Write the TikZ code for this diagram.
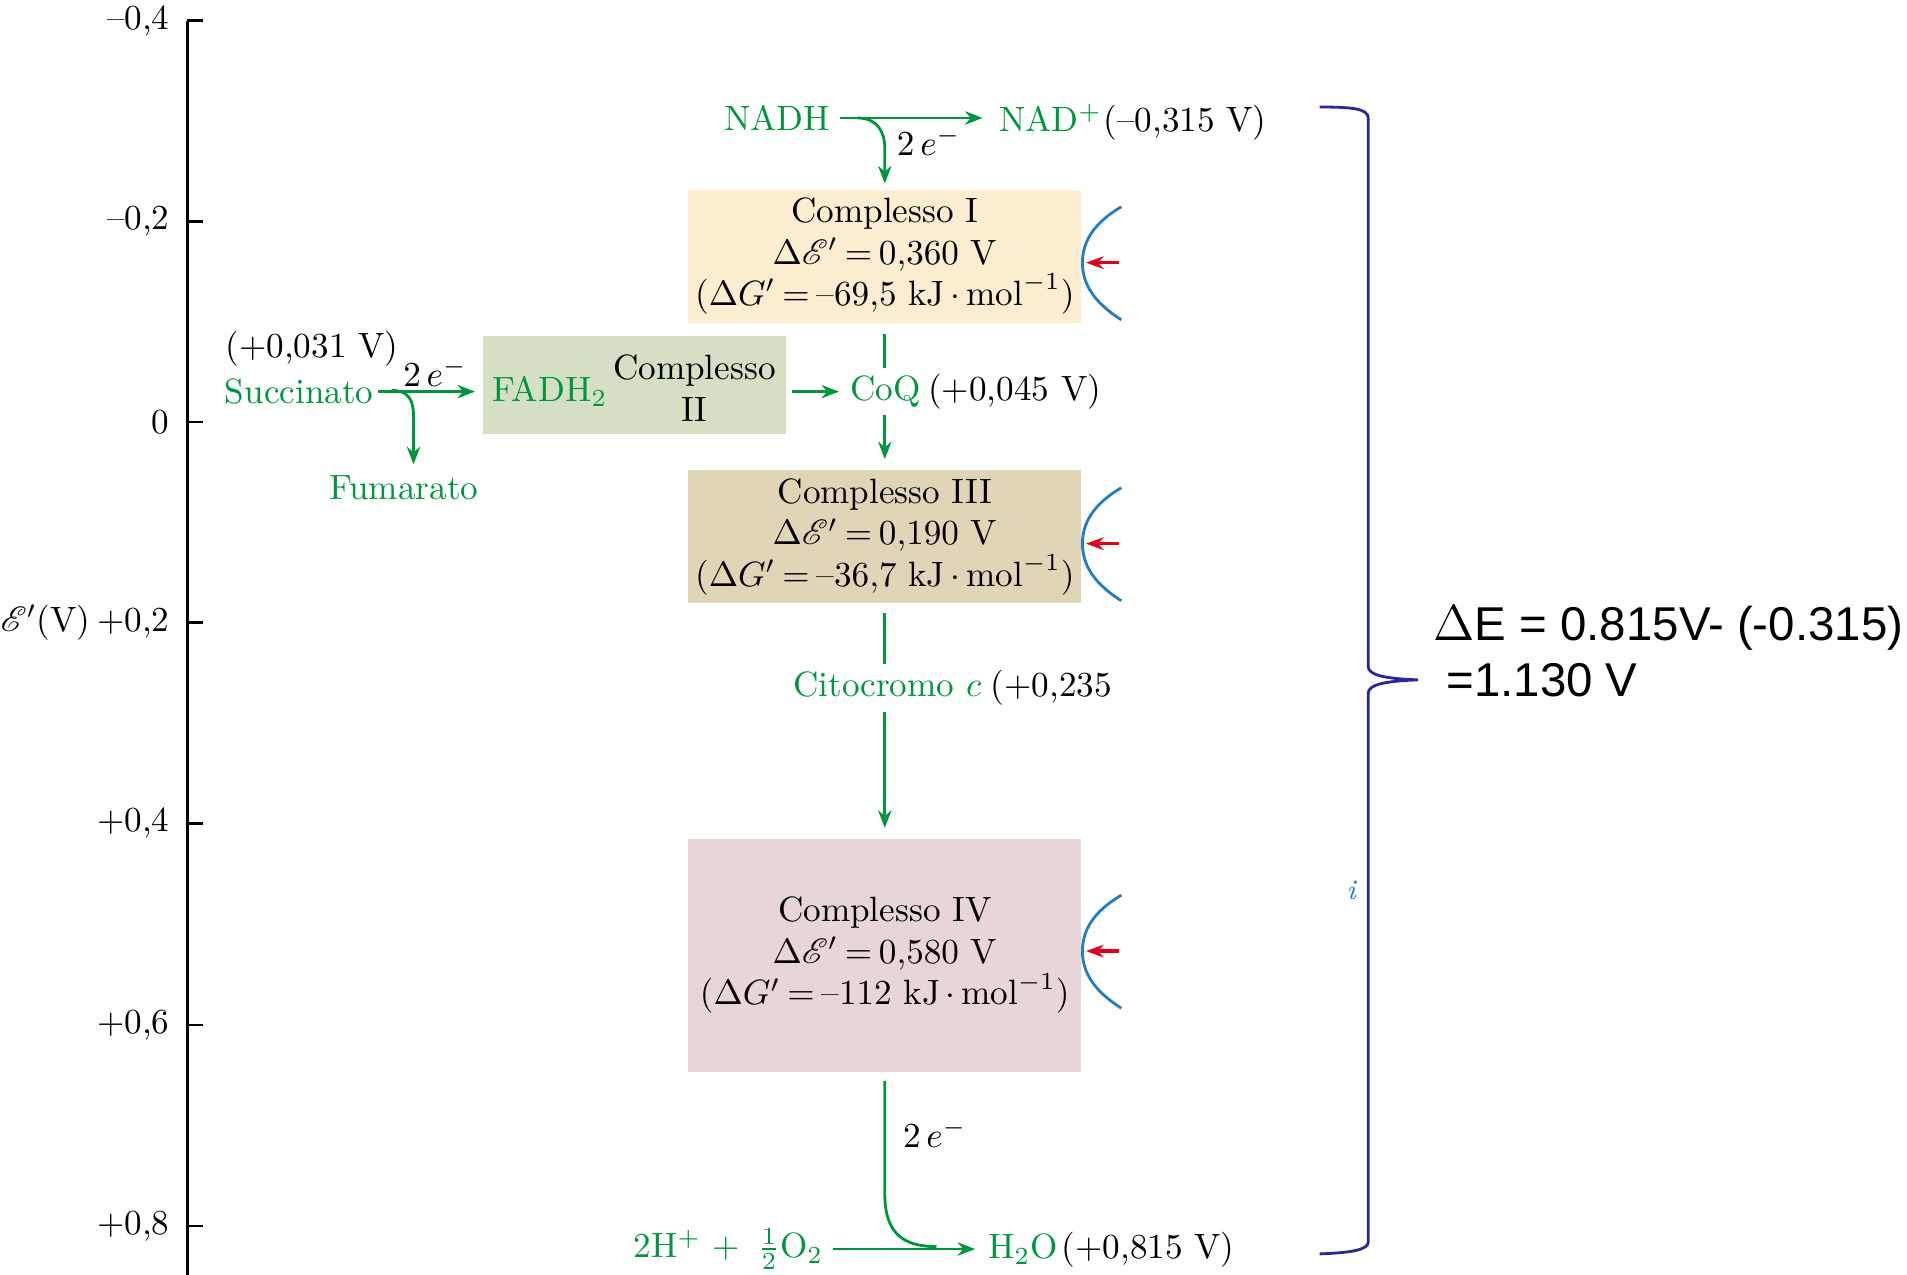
\documentclass[tikz,border=0pt]{standalone}
\usepackage{amsmath}
\usepackage{mathrsfs}
\usepackage{fontspec}
\newfontfamily\slidefont{Liberation Sans}
\usetikzlibrary{arrows.meta,positioning}

\definecolor{etcgreen}{RGB}{0,150,62}
\definecolor{boxI}{RGB}{252,236,208}
\definecolor{boxII}{RGB}{213,223,196}
\definecolor{boxIII}{RGB}{225,213,183}
\definecolor{boxIV}{RGB}{231,213,216}
\definecolor{pumpblue}{RGB}{38,124,192}
\definecolor{protonred}{RGB}{226,0,26}
\definecolor{bracenavy}{RGB}{40,40,150}

\newcommand{\tightmath}{\thickmuskip=3.5mu\relax\medmuskip=3mu\relax}

\tikzset{
  axis/.style={line width=0.7pt},
  flow/.style={draw=etcgreen, line width=0.8pt},
  flowarr/.style={flow, ->},
  cplx/.style={fill=#1, inner sep=0pt, align=center, minimum width=3.93cm,
    font=\fontsize{10}{11.8}\selectfont\tightmath},
  mol/.style={text=etcgreen, inner sep=1pt},
  pot/.style={inner sep=1pt},
  pump/.style={draw=pumpblue, line width=0.8pt},
  proton/.style={draw=protonred, line width=0.9pt, -{Stealth[length=5pt,width=3.6pt]}},
}

\begin{document}
\begin{tikzpicture}[x=0.012162cm, y=-0.012162cm, >={Stealth[length=5pt,width=3.8pt]}]
  \useasboundingbox (0,0) rectangle (1568,1048);

  \draw[axis] (154,17) -- (154,1048);
  \foreach \y/\v in {17/{--0,4}, 182/{--0,2}, 347/0, 512/{+0,2}, 677/{+0,4}, 843/{+0,6}, 1008/{+0,8}} {
    \draw[axis] (154,\y) -- (167,\y);
    \node[anchor=east, inner sep=0pt] (tk\y) at (140,\y) {\v};
  }
  \node[anchor=west, inner sep=0pt] (elab) at (0,512) {$\mathscr{E}'$(V)};

  \node[cplx=boxI, minimum height=1.33cm] (c1) at (727.5,210.5)
    {Complesso I\\$\Delta\mathscr{E}' = 0{,}360$ V\\$(\Delta G' = \mbox{--}69{,}5\ \mathrm{kJ}\cdot\mathrm{mol}^{-1})$};
  \node[cplx=boxII, minimum width=3.03cm, minimum height=0.94cm, text height=18.5pt] (c2) at (521.5,316.5)
    {\textcolor{etcgreen}{FADH$_2$}\,\begin{tabular}{@{}c@{}}Complesso\\II\end{tabular}};
  \node[cplx=boxIII, minimum height=1.33cm] (c3) at (727.5,441.5)
    {Complesso III\\$\Delta\mathscr{E}' = 0{,}190$ V\\$(\Delta G' = \mbox{--}36{,}7\ \mathrm{kJ}\cdot\mathrm{mol}^{-1})$};
  \node[cplx=boxIV, minimum height=2.323cm] (c4) at (727.5,785.5)
    {Complesso IV\\$\Delta\mathscr{E}' = 0{,}580$ V\\$(\Delta G' = \mbox{--}112\ \mathrm{kJ}\cdot\mathrm{mol}^{-1})$};

  \node[mol] (nadh) at (639,97) {NADH};
  \node[mol, anchor=west] (nad) at (818,97) {NAD$^+$};
  \node[pot, base right=-2pt of nad] (nadv) {(--0,315 V)};
  \node[mol] (succ) at (246,322) {Succinato};
  \node[pot, anchor=west] (succv) at (182,287) {(+0,031 V)};
  \node[mol] (fum) at (332,401) {Fumarato};
  \node[mol] (coq) at (728,322) {CoQ};
  \node[pot, base right=-0.2pt of coq] (coqv) {(+0,045 V)};
  \node[mol] (cito) at (729.5,563) {Citocromo $c$};
  \node[pot, base right=0.3pt of cito] (citov) {(+0,235};
  \node[mol] (o2) at (599,1027) {2H$^+$ + \,$\frac{1}{2}$O$_2$};
  \node[mol, anchor=west] (h2o) at (809,1027) {H$_2$O};
  \node[pot, base right=-1.2pt of h2o] (h2ov) {(+0,815 V)};

  \coordinate (j1) at (705,97);
  \coordinate (j1b) at (727.5,122);
  \draw[flowarr, shorten <=1.5pt, shorten >=3.5pt] (nadh.east) -- (nadh.east -| nad.west);
  \draw[flowarr, shorten >=1.5pt] (j1) .. controls +(16,0) and +(0,-14) .. (j1b) -- (c1.north);
  \node[pot, anchor=west] (e1) at (734,116) {$2\,e^{-}$};

  \coordinate (j2) at (322,321);
  \coordinate (j2b) at (340,342);
  \draw[flowarr, shorten >=2pt] (succ.east) -- (succ.east -| c2.west)
    node[pot, pos=0.55, above] (e2) {$2\,e^{-}$};
  \draw[flowarr, shorten >=2pt] (j2) .. controls +(14,0) and +(0,-13) .. (j2b) -- (j2b |- fum.north);

  \draw[flowarr, shorten <=1.5pt, shorten >=2pt] (c2.east |- coq.west) -- (coq.west);
  \draw[flow, shorten <=3pt, shorten >=1pt] (c1.south) -- (c1.south |- coq.north);
  \draw[flowarr, shorten <=1pt, shorten >=3pt] (c3.north |- coq.south) -- (c3.north);
  \draw[flow, shorten <=2.5pt, shorten >=1pt] (c3.south) -- (c3.south |- cito.north);
  \draw[flowarr, shorten <=3pt, shorten >=3pt] (c4.north |- cito.south) -- (c4.north);

  \coordinate (j3) at (770,1025);
  \draw[flow, shorten <=2.5pt] (c4.south) -- ++(0,100) .. controls +(0,32) and +(-28,0) .. (j3);
  \draw[flowarr, shorten <=1.5pt, shorten >=2.5pt] (o2.east) -- (o2.east -| h2o.west);
  \node[pot, anchor=west] (e3) at (739,932) {$2\,e^{-}$};

  \foreach \y in {216,447,782} {
    \draw[pump] (922,{\y-46}) .. controls (900,{\y-33}) and (890,{\y-18}) .. (890,\y)
      .. controls (890,{\y+18}) and (900,{\y+33}) .. (922,{\y+47});
    \draw[proton] (920,\y) -- (893,\y);
  }

  \draw[bracenavy, line width=0.8pt] (1085,88) .. controls (1110,88) and (1125,89) .. (1125,97)
    -- (1125,548) .. controls (1125,555) and (1138,558) .. (1166,559)
    .. controls (1138,560) and (1125,563) .. (1125,570)
    -- (1125,1021) .. controls (1125,1028) and (1110,1030) .. (1085,1031);
  \node[text=pumpblue, inner sep=0pt, font=\fontsize{8}{9}\selectfont\itshape] (ilab) at (1111,732) {i};

  \node[anchor=north west, inner sep=0pt, align=left, font=\slidefont\fontsize{13.5}{15.9}\selectfont] (dE)
    at (1178,498) {$\Delta$E = 0.815V- (-0.315)\\\hspace*{0.13cm}=1.130 V};
\end{tikzpicture}
\end{document}
